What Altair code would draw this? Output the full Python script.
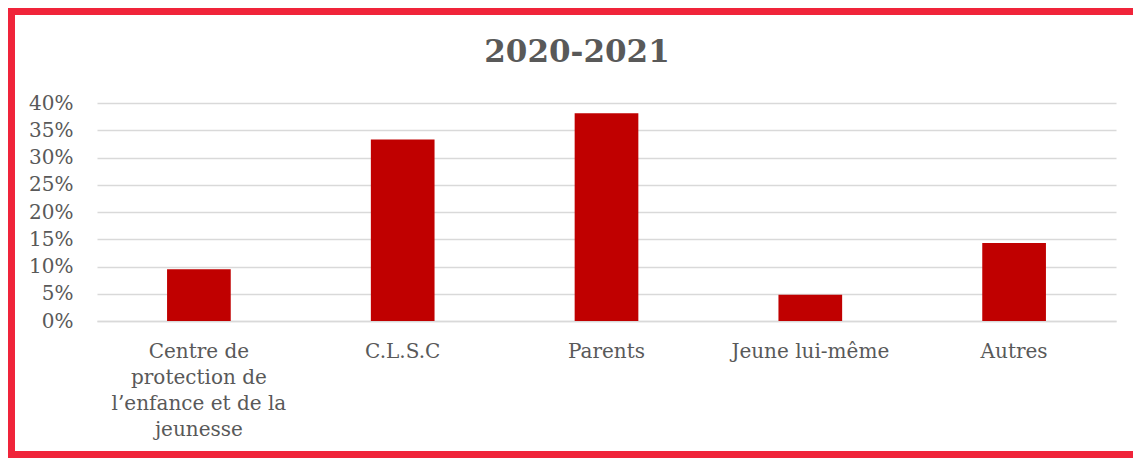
import altair as alt
import pandas as pd

categories = [
    "Centre de protection de l’enfance et de la jeunesse",
    "C.L.S.C",
    "Parents",
    "Jeune lui-même",
    "Autres",
]
values = [0.095, 0.333, 0.381, 0.048, 0.143]
tick_values = [0, 0.05, 0.10, 0.15, 0.20, 0.25, 0.30, 0.35, 0.40]
wrapped_first = ["Centre de", "protection de", "l’enfance et de la", "jeunesse"]

df = pd.DataFrame({"cat": categories, "val": values})

FONT = "DejaVu Serif"
GREY = "#595959"

label_expr = (
    "datum.label == '" + categories[0] + "' ? ["
    + ", ".join("'" + s + "'" for s in wrapped_first)
    + "] : datum.label"
)

bars = alt.Chart(df).mark_bar(
    color="#C00000", width=alt.RelativeBandSize(0.3125)
).encode(
    x=alt.X(
        "cat:N",
        sort=categories,
        title=None,
        scale=alt.Scale(paddingInner=0, paddingOuter=0),
        axis=alt.Axis(
            labelAngle=0,
            labelExpr=label_expr,
            labelFont=FONT,
            labelFontSize=20,
            labelColor=GREY,
            labelLineHeight=26,
            labelPadding=20,
            labelBaseline="top",
            ticks=False,
            domainColor="#D9D9D9",
            domainWidth=1.5,
            grid=False,
            labelLimit=300,
        ),
    ),
    y=alt.Y(
        "val:Q",
        title=None,
        scale=alt.Scale(domain=[0, 0.4], nice=False),
        axis=alt.Axis(
            values=tick_values,
            format=".0%",
            labelFont=FONT,
            labelFontSize=20,
            labelColor=GREY,
            labelPadding=24,
            ticks=False,
            domain=False,
            gridColor="#D9D9D9",
            gridWidth=1.5,
        ),
    ),
)

border = alt.Chart(pd.DataFrame({"b": [0]})).mark_rect(
    filled=False, stroke="#F0243A", strokeWidth=7
).encode(
    x=alt.value(-85.5),
    x2=alt.value(1046),
    y=alt.value(-91.5),
    y2=alt.value(351.5),
)

chart = alt.layer(bars, border).properties(
    width=1019,
    height=218,
    title=alt.TitleParams(
        "2020-2021",
        font=FONT,
        fontSize=31,
        fontWeight="bold",
        color=GREY,
        anchor="middle",
        baseline="alphabetic",
        offset=-84.5,
        dx=-29.5,
    ),
    autosize=alt.AutoSizeParams(type="none"),
    padding={"left": 89, "top": 95, "right": 17, "bottom": 137},
).configure_view(stroke=None)

chart.save("out.html", embed_options={"renderer": "svg", "actions": False})
